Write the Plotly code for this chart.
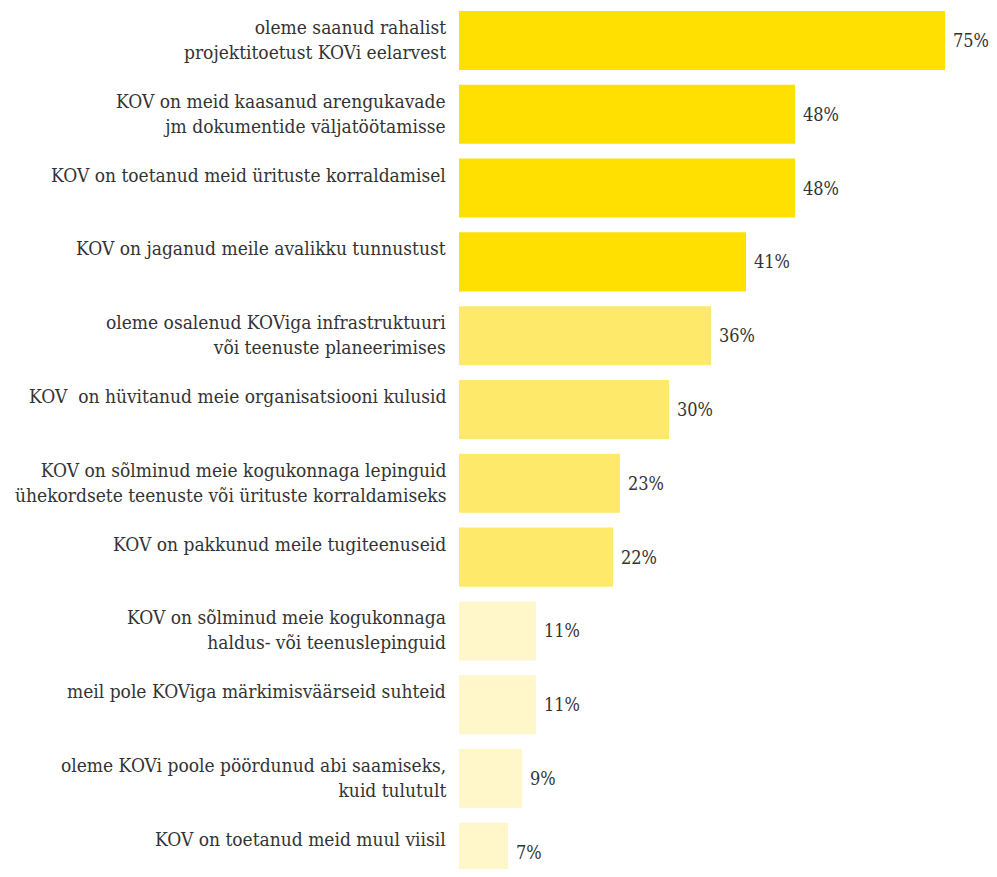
import plotly.graph_objects as go

categories = [
    "oleme saanud rahalist<br>projektitoetust KOVi eelarvest",
    "KOV on meid kaasanud arengukavade<br>jm dokumentide väljatöötamisse",
    "KOV on toetanud meid ürituste korraldamisel",
    "KOV on jaganud meile avalikku tunnustust",
    "oleme osalenud KOViga infrastruktuuri<br>või teenuste planeerimises",
    "KOV  on hüvitanud meie organisatsiooni kulusid",
    "KOV on sõlminud meie kogukonnaga lepinguid<br>ühekordsete teenuste või ürituste korraldamiseks",
    "KOV on pakkunud meile tugiteenuseid",
    "KOV on sõlminud meie kogukonnaga<br>haldus- või teenuslepinguid",
    "meil pole KOViga märkimisväärseid suhteid",
    "oleme KOVi poole pöördunud abi saamiseks,<br>kuid tulutult",
    "KOV on toetanud meid muul viisil",
]
values = [75, 48, 48, 41, 36, 30, 23, 22, 11, 11, 9, 7]
value_labels = ["75%", "48%", "48%", "41%", "36%", "30%", "23%", "22%", "11%", "11%", "9%", "7%"]
tiers = [0, 0, 0, 0, 1, 1, 1, 1, 2, 2, 2, 2]
tier_colors = ["#FFE000", "#FEE96B", "#FFF6C9"]

XMAX = 69.43
FONT = "DejaVu Serif Condensed, DejaVu Serif, serif"
TXT = "#333333"

idx = list(range(len(categories)))

fig = go.Figure()
fig.add_trace(go.Bar(
    x=values, y=idx, orientation="h",
    marker=dict(color=[tier_colors[t] for t in tiers], line=dict(width=0)),
    width=0.8, hoverinfo="skip",
))

annotations = []
for i, (cat, v, lab) in enumerate(zip(categories, values, value_labels)):
    annotations.append(dict(
        x=0, y=i - 0.4, xref="x", yref="y", text=cat, showarrow=False,
        xanchor="right", yanchor="top", align="right", xshift=-11, yshift=-3,
        font=dict(family=FONT, size=19, color=TXT),
    ))
    annotations.append(dict(
        x=min(v, XMAX - 0.01), y=i, xref="x", yref="y", text=lab, showarrow=False,
        xanchor="left", yanchor="middle", xshift=6,
        font=dict(family=FONT, size=18, color=TXT),
    ))

fig.update_layout(
    width=981, height=861,
    margin=dict(l=451, r=44, t=0, b=0, pad=0),
    paper_bgcolor="white", plot_bgcolor="white",
    showlegend=False,
    xaxis=dict(range=[0, XMAX], visible=False, fixedrange=True),
    yaxis=dict(range=[11.226, -0.44], visible=False, fixedrange=True),
    annotations=annotations,
    font=dict(family=FONT, size=19, color=TXT),
)

fig.write_html("out.html")
